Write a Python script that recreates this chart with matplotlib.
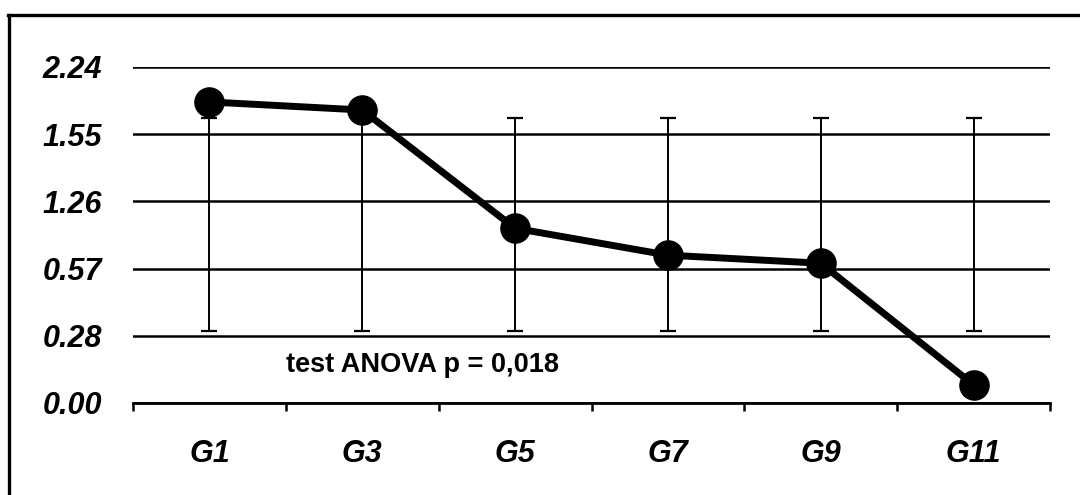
import numpy as np
import matplotlib.pyplot as plt
from matplotlib.lines import Line2D

plt.rcParams['font.family'] = ['Liberation Sans', 'DejaVu Sans']

# groups and values (in gridline units: the y labels are not linear)
groups = ['G1', 'G3', 'G5', 'G7', 'G9', 'G11']
means = [4.48, 4.36, 2.60, 2.20, 2.08, 0.27]
err_low = [1.07, 1.07, 1.07, 1.07, 1.07, 1.07]
err_high = [4.24, 4.24, 4.24, 4.24, 4.24, 4.24]
y_labels = ['0.00', '0.28', '0.57', '1.26', '1.55', '2.24']

fig = plt.figure(figsize=(10.8, 4.95), dpi=100)
ax = fig.add_axes([133 / 1080, 92 / 495, 917 / 1080, 336 / 495])

x = np.arange(len(groups)) + 0.5
lo = np.array(err_low)
hi = np.array(err_high)

# error bars behind the line
ax.errorbar(x, (lo + hi) / 2, yerr=(hi - lo) / 2, fmt='none', ecolor='black',
            elinewidth=1.4, capsize=6, capthick=1.6, zorder=2)
ax.plot(x, means, color='black', lw=5, marker='o', ms=21, zorder=3, clip_on=False)

ax.text(1.0, 0.565, 'test ANOVA p = 0,018', fontsize=19.5, fontweight='bold',
        ha='left', va='center')

ax.set_xlim(0, 6)
ax.set_ylim(0, 5)

ax.set_yticks(range(len(y_labels)))
ax.set_yticklabels(y_labels, fontsize=22, fontweight='bold', style='italic')
ax.tick_params(axis='y', length=0, pad=22)
ax.yaxis.grid(True, color='black', lw=1.8)
ax.set_axisbelow(True)

ax.set_xticks(range(7))
ax.set_xticklabels([])
ax.set_xticks(x, minor=True)
ax.set_xticklabels(groups, minor=True, fontsize=22, fontweight='bold', style='italic')
ax.tick_params(axis='x', which='major', length=6, width=1.8, direction='out')
ax.tick_params(axis='x', which='minor', length=0, pad=26)

for s in ['top', 'right', 'left']:
    ax.spines[s].set_visible(False)
ax.spines['bottom'].set_linewidth(2)

# frame lines around the figure (left and top only visible)
fig.add_artist(Line2D([9 / 1080, 9 / 1080], [0, 1 - 15 / 495], color='black', lw=2.4,
                      transform=fig.transFigure))
fig.add_artist(Line2D([8 / 1080, 1], [1 - 15 / 495, 1 - 15 / 495], color='black', lw=2.4,
                      transform=fig.transFigure))

fig.savefig('out.png', dpi=100)
